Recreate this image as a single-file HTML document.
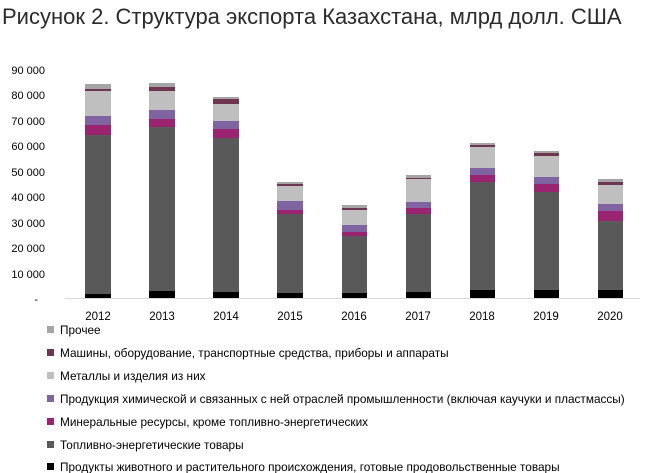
<!DOCTYPE html>
<html><head><meta charset="utf-8"><style>
body{margin:0;background:#fff;}
svg{display:block;font-family:"Liberation Sans",sans-serif;}
</style></head><body>
<svg width="646" height="473" viewBox="0 0 646 473" xmlns="http://www.w3.org/2000/svg">
<text x="2" y="24" font-size="22" fill="#2b2b2b">Рисунок 2. Структура экспорта Казахстана, млрд долл. США</text>
<g font-size="11" fill="#000" text-anchor="end">
<text x="45" y="74">90 000</text>
<text x="45" y="99">80 000</text>
<text x="45" y="125">70 000</text>
<text x="45" y="150">60 000</text>
<text x="45" y="176">50 000</text>
<text x="45" y="201">40 000</text>
<text x="45" y="227">30 000</text>
<text x="45" y="252">20 000</text>
<text x="45" y="278">10 000</text>
<text x="38" y="303">-</text>
</g>
<line x1="65" y1="298.5" x2="640" y2="298.5" stroke="#d9d9d9" stroke-width="1"/>
<g font-size="11.5" fill="#000" text-anchor="middle">
<text x="98" y="320">2012</text><text x="162" y="320">2013</text><text x="226" y="320">2014</text>
<text x="290" y="320">2015</text><text x="354" y="320">2016</text><text x="418" y="320">2017</text>
<text x="482" y="320">2018</text><text x="546" y="320">2019</text><text x="610" y="320">2020</text>
</g>
<g font-size="11.8" fill="#000">
<rect x="47" y="326" width="7" height="7" fill="#a5a5a5"/><text x="60" y="334">Прочее</text>
<rect x="47" y="349" width="7" height="7" fill="#6f3650"/><text x="60" y="357">Машины, оборудование, транспортные средства, приборы и аппараты</text>
<rect x="47" y="372" width="7" height="7" fill="#bfbfbf"/><text x="60" y="380">Металлы и изделия из них</text>
<rect x="47" y="395" width="7" height="7" fill="#8064a2"/><text x="60" y="403">Продукция химической и связанных с ней отраслей промышленности (включая каучуки и пластмассы)</text>
<rect x="47" y="418" width="7" height="7" fill="#9a2470"/><text x="60" y="426">Минеральные ресурсы, кроме топливно-энергетических</text>
<rect x="47" y="441" width="7" height="7" fill="#595959"/><text x="60" y="449">Топливно-энергетические товары</text>
<rect x="47" y="463" width="7" height="7" fill="#000"/><text x="60" y="471">Продукты животного и растительного происхождения, готовые продовольственные товары</text>
</g>
<g>
<rect x="85" y="294" width="26" height="4" fill="#000"/><rect x="85" y="135" width="26" height="159" fill="#595959"/><rect x="85" y="125" width="26" height="10" fill="#9a2470"/><rect x="85" y="116" width="26" height="9" fill="#8064a2"/><rect x="85" y="91" width="26" height="25" fill="#bfbfbf"/><rect x="85" y="89" width="26" height="2" fill="#6f3650"/><rect x="85" y="84" width="26" height="5" fill="#a5a5a5"/>
<rect x="149" y="291" width="26" height="7" fill="#000"/><rect x="149" y="127" width="26" height="164" fill="#595959"/><rect x="149" y="119" width="26" height="8" fill="#9a2470"/><rect x="149" y="110" width="26" height="9" fill="#8064a2"/><rect x="149" y="91" width="26" height="19" fill="#bfbfbf"/><rect x="149" y="87" width="26" height="4" fill="#6f3650"/><rect x="149" y="83" width="26" height="4" fill="#a5a5a5"/>
<rect x="213" y="292" width="26" height="6" fill="#000"/><rect x="213" y="138" width="26" height="154" fill="#595959"/><rect x="213" y="129" width="26" height="9" fill="#9a2470"/><rect x="213" y="121" width="26" height="8" fill="#8064a2"/><rect x="213" y="104" width="26" height="17" fill="#bfbfbf"/><rect x="213" y="99" width="26" height="5" fill="#6f3650"/><rect x="213" y="97" width="26" height="2" fill="#a5a5a5"/>
<rect x="277" y="293" width="26" height="5" fill="#000"/><rect x="277" y="214" width="26" height="79" fill="#595959"/><rect x="277" y="210" width="26" height="4" fill="#9a2470"/><rect x="277" y="201" width="26" height="9" fill="#8064a2"/><rect x="277" y="186" width="26" height="15" fill="#bfbfbf"/><rect x="277" y="184" width="26" height="2" fill="#6f3650"/><rect x="277" y="182" width="26" height="2" fill="#a5a5a5"/>
<rect x="342" y="293" width="25" height="5" fill="#000"/><rect x="342" y="236" width="25" height="57" fill="#595959"/><rect x="342" y="232" width="25" height="4" fill="#9a2470"/><rect x="342" y="225" width="25" height="7" fill="#8064a2"/><rect x="342" y="210" width="25" height="15" fill="#bfbfbf"/><rect x="342" y="208" width="25" height="2" fill="#6f3650"/><rect x="342" y="205" width="25" height="3" fill="#a5a5a5"/>
<rect x="406" y="292" width="25" height="6" fill="#000"/><rect x="406" y="214" width="25" height="78" fill="#595959"/><rect x="406" y="208" width="25" height="6" fill="#9a2470"/><rect x="406" y="202" width="25" height="6" fill="#8064a2"/><rect x="406" y="179" width="25" height="23" fill="#bfbfbf"/><rect x="406" y="178" width="25" height="1" fill="#6f3650"/><rect x="406" y="175" width="25" height="3" fill="#a5a5a5"/>
<rect x="470" y="290" width="25" height="8" fill="#000"/><rect x="470" y="182" width="25" height="108" fill="#595959"/><rect x="470" y="175" width="25" height="7" fill="#9a2470"/><rect x="470" y="168" width="25" height="7" fill="#8064a2"/><rect x="470" y="147" width="25" height="21" fill="#bfbfbf"/><rect x="470" y="145" width="25" height="2" fill="#6f3650"/><rect x="470" y="143" width="25" height="2" fill="#a5a5a5"/>
<rect x="534" y="290" width="25" height="8" fill="#000"/><rect x="534" y="192" width="25" height="98" fill="#595959"/><rect x="534" y="184" width="25" height="8" fill="#9a2470"/><rect x="534" y="177" width="25" height="7" fill="#8064a2"/><rect x="534" y="156" width="25" height="21" fill="#bfbfbf"/><rect x="534" y="153" width="25" height="3" fill="#6f3650"/><rect x="534" y="151" width="25" height="2" fill="#a5a5a5"/>
<rect x="598" y="290" width="25" height="8" fill="#000"/><rect x="598" y="221" width="25" height="69" fill="#595959"/><rect x="598" y="211" width="25" height="10" fill="#9a2470"/><rect x="598" y="204" width="25" height="7" fill="#8064a2"/><rect x="598" y="185" width="25" height="19" fill="#bfbfbf"/><rect x="598" y="182" width="25" height="3" fill="#6f3650"/><rect x="598" y="179" width="25" height="3" fill="#a5a5a5"/>
</g>
</svg>
</body></html>
